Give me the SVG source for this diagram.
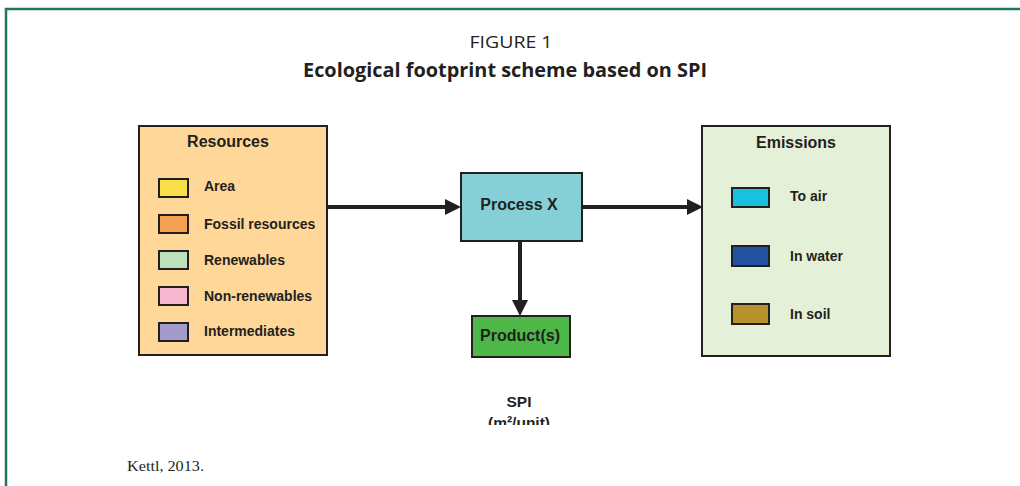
<svg xmlns="http://www.w3.org/2000/svg" width="1020" height="486" viewBox="0 0 1020 486">
<style>
.box{stroke:#231f20;stroke-width:2}
.sw{stroke:#231f20;stroke-width:2}
.t{font-family:"Liberation Sans",Arial,sans-serif;font-weight:bold;fill:#231f20}
.h{font-size:16px;text-anchor:middle}
.l{font-size:14px}
.ln{stroke:#231f20;stroke-width:4;fill:none}
.ah{fill:#231f20}
</style>
<defs>
<clipPath id="clipSpi"><rect x="0" y="0" width="1020" height="425"/></clipPath>
</defs>
<rect x="0" y="0" width="1020" height="486" fill="#ffffff"/>
<path d="M6,486 V9 H1020" fill="none" stroke="#1d7a5f" stroke-width="2.5"/>
<g id="title">
<text x="511" y="48" font-family="'Open Sans','Noto Sans',sans-serif" font-size="17" text-anchor="middle" fill="#231f20" textLength="83" lengthAdjust="spacingAndGlyphs">FIGURE 1</text>
<text x="505" y="77" font-family="'Open Sans','Noto Sans',sans-serif" font-size="19.5" font-weight="bold" text-anchor="middle" fill="#231f20" textLength="404" lengthAdjust="spacingAndGlyphs">Ecological footprint scheme based on SPI</text>
</g>
<g id="connectors">
<line class="ln" x1="328" y1="207" x2="447" y2="207"/>
<polygon class="ah" points="445,199 461,207 445,215"/>
<line class="ln" x1="582" y1="207" x2="689" y2="207"/>
<polygon class="ah" points="687,199 703,207 687,215"/>
<line class="ln" x1="520" y1="241" x2="520" y2="302"/>
<polygon class="ah" points="512,300 520,316 528,300"/>
</g>
<g id="resources">
<rect class="box" x="139" y="126" width="188" height="229" fill="#fed799"/>
<text class="t h" x="228" y="147">Resources</text>
<rect class="sw" x="159" y="179" width="29" height="18" fill="#fbdf4a"/>
<text class="t l" x="204" y="191">Area</text>
<rect class="sw" x="159" y="215" width="29" height="18" fill="#f59f53"/>
<text class="t l" x="204" y="229">Fossil resources</text>
<rect class="sw" x="159" y="251" width="29" height="18" fill="#bde2bb"/>
<text class="t l" x="204" y="265">Renewables</text>
<rect class="sw" x="159" y="287" width="29" height="18" fill="#f6b6d0"/>
<text class="t l" x="204" y="301">Non-renewables</text>
<rect class="sw" x="159" y="323" width="29" height="18" fill="#a29acb"/>
<text class="t l" x="204" y="336">Intermediates</text>
</g>
<g id="process">
<rect class="box" x="461" y="173" width="121" height="68" fill="#85d0d6"/>
<text class="t h" x="519" y="210">Process X</text>
</g>
<g id="product">
<rect class="box" x="472" y="316" width="98" height="41" fill="#4db848"/>
<text class="t h" x="520" y="341">Product(s)</text>
</g>
<g id="emissions">
<rect class="box" x="702" y="126" width="188" height="230" fill="#e5f0d8"/>
<text class="t h" x="796" y="148">Emissions</text>
<rect class="sw" x="732" y="188" width="37" height="19" fill="#1ac0e0"/>
<text class="t l" x="790" y="201">To air</text>
<rect class="sw" x="732" y="246" width="37" height="20" fill="#2351a3"/>
<text class="t l" x="790" y="261">In water</text>
<rect class="sw" x="732" y="304" width="37" height="20" fill="#b8902c"/>
<text class="t l" x="790" y="319">In soil</text>
</g>
<g id="spi" clip-path="url(#clipSpi)">
<text class="t" x="519" y="407" font-size="15.5" text-anchor="middle">SPI</text>
<text class="t" x="519" y="428" font-size="15.5" text-anchor="middle">(m²/unit)</text>
</g>
<text x="127" y="471" font-family="'Liberation Serif','Times New Roman',serif" font-size="15" fill="#231f20" textLength="77" lengthAdjust="spacingAndGlyphs">Kettl, 2013.</text>
</svg>
